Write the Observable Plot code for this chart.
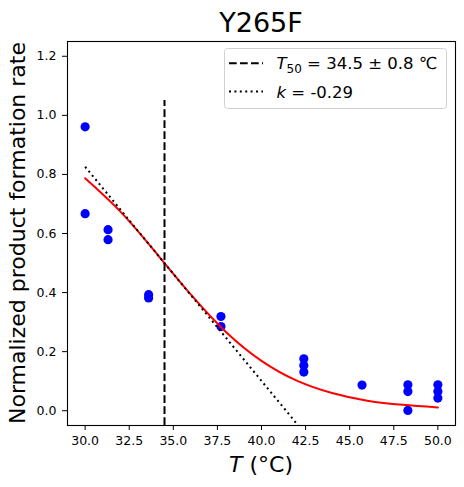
<!DOCTYPE html>
<html><head><meta charset="utf-8">
<script src="https://cdn.jsdelivr.net/npm/d3@7"></script>
<script src="https://cdn.jsdelivr.net/npm/@observablehq/plot@0.6"></script>
<style>html,body{margin:0;padding:0;background:#fff} svg{display:block}</style>
</head><body><div id="chart"></div>
<script>
// ---- data ----
const titleText = "Y265F";
const yLabelText = "Normalized product formation rate";
const xLabelVar = "T";
const xLabelUnit = " (°C)";
const xTicks = [30, 32.5, 35, 37.5, 40, 42.5, 45, 47.5, 50];
const yTicks = [0, 0.2, 0.4, 0.6, 0.8, 1.0, 1.2];

// measured points
const temps = [30, 30, 31.3, 31.3, 33.6, 33.6, 37.7, 37.7, 42.4, 42.4, 42.4, 45.7, 48.3, 48.3, 48.3, 50, 50, 50];
const rates = [0.961, 0.667, 0.613, 0.579, 0.393, 0.382, 0.319, 0.285, 0.176, 0.153, 0.131, 0.087, 0.088, 0.065, 0.001, 0.088, 0.065, 0.043];

// fitted sigmoid curve
const fitT = [30, 32, 34, 36, 38, 40, 42, 44, 46, 48, 50];
const fitY = [0.787, 0.674, 0.536, 0.393, 0.266, 0.169, 0.102, 0.060, 0.034, 0.020, 0.011];

// tangent (dotted) line end points
const tanT = [30, 44];
const tanY = [0.826, -0.189];

// T50 marker
const T50 = [34.5];
const t50Span = [-0.05, 1.05];

// legend
const legendT50 = {sym: "T", sub: "50", rest: " = 34.5 ± 0.8 ℃"};
const legendK = {sym: "k", rest: " = -0.29"};

// ---- build ----
const points = temps.map((t, i) => ({t, r: rates[i]}));
const fit = fitT.map((t, i) => ({t, y: fitY[i]}));
const tan = tanT.map((t, i) => ({t, y: tanY[i]}));
const fmt = d3.format(".1f");

const W = 464, H = 487;
const mL = 67, mR = 9, mT = 41, mB = 62;

const plot = Plot.plot({
  width: W, height: H,
  marginLeft: mL, marginRight: mR, marginTop: mT, marginBottom: mB,
  style: {fontFamily: "DejaVu Sans", fontSize: "12.5px", color: "black", background: "white"},
  x: {domain: [29, 51]},
  y: {domain: [-0.05, 1.25]},
  marks: [
    Plot.dot(points, {x: "t", y: "r", r: 4.6, fill: "blue", stroke: "none"}),
    Plot.line(fit, {x: "t", y: "y", stroke: "red", strokeWidth: 2, curve: "natural"}),
    Plot.line(tan, {x: "t", y: "y", stroke: "black", strokeWidth: 2, strokeDasharray: "2,3.4", strokeLinecap: "butt", clip: true}),
    Plot.ruleX(T50, {x: d => d, y1: t50Span[0], y2: t50Span[1], stroke: "black", strokeWidth: 2, strokeDasharray: "7.7,3.3"}),
    Plot.frame({stroke: "black", strokeWidth: 1.1}),
    Plot.axisX({ticks: xTicks, tickFormat: fmt, tickSize: 5, tickPadding: 6, label: null, fontSize: 12.5}),
    Plot.axisY({ticks: yTicks, tickFormat: fmt, tickSize: 5, tickPadding: 6, label: null, fontSize: 12.5})
  ]
});
document.getElementById("chart").appendChild(plot);

const svg = d3.select(plot);
const cx = mL + (W - mL - mR) / 2;

// title
svg.append("text").attr("x", cx).attr("y", 32).attr("text-anchor", "middle")
  .attr("font-family", "DejaVu Sans").attr("font-size", 27).attr("fill", "black").text(titleText);

// x label
const xl = svg.append("text").attr("x", cx).attr("y", 472).attr("text-anchor", "middle")
  .attr("font-family", "DejaVu Sans").attr("font-size", 22).attr("fill", "black");
xl.append("tspan").attr("font-style", "italic").text(xLabelVar);
xl.append("tspan").text(xLabelUnit);

// y label
svg.append("text").attr("transform", `translate(24.5,${mT + (H - mT - mB) / 2}) rotate(-90)`)
  .attr("text-anchor", "middle").attr("font-family", "DejaVu Sans").attr("font-size", 22)
  .attr("fill", "black").text(yLabelText);

// legend
const lg = svg.append("g").attr("font-family", "DejaVu Sans").attr("fill", "black").attr("text-anchor", "start");
lg.append("rect").attr("x", 224.5).attr("y", 48.5).attr("width", 222).attr("height", 60).attr("rx", 3)
  .attr("fill", "white").attr("fill-opacity", 0.8).attr("stroke", "#d0d0d0").attr("stroke-width", 1);
lg.append("line").attr("x1", 229).attr("x2", 263).attr("y1", 63.3).attr("y2", 63.3)
  .attr("stroke", "black").attr("stroke-width", 2).attr("stroke-dasharray", "7.7,3.3");
lg.append("line").attr("x1", 229).attr("x2", 263).attr("y1", 91.5).attr("y2", 91.5)
  .attr("stroke", "black").attr("stroke-width", 2).attr("stroke-dasharray", "2,3.4");
const t1 = lg.append("text").attr("x", 276.5).attr("y", 69.3).attr("font-size", 16.5).attr("text-anchor", "start");
t1.append("tspan").attr("font-style", "italic").text(legendT50.sym);
t1.append("tspan").attr("font-size", 12).attr("dy", 3.5).text(legendT50.sub);
t1.append("tspan").attr("dy", -3.5).text(legendT50.rest);
const t2 = lg.append("text").attr("x", 276.5).attr("y", 97.5).attr("font-size", 16.5).attr("text-anchor", "start");
t2.append("tspan").attr("font-style", "italic").text(legendK.sym);
t2.append("tspan").text(legendK.rest);
</script>
</body></html>
